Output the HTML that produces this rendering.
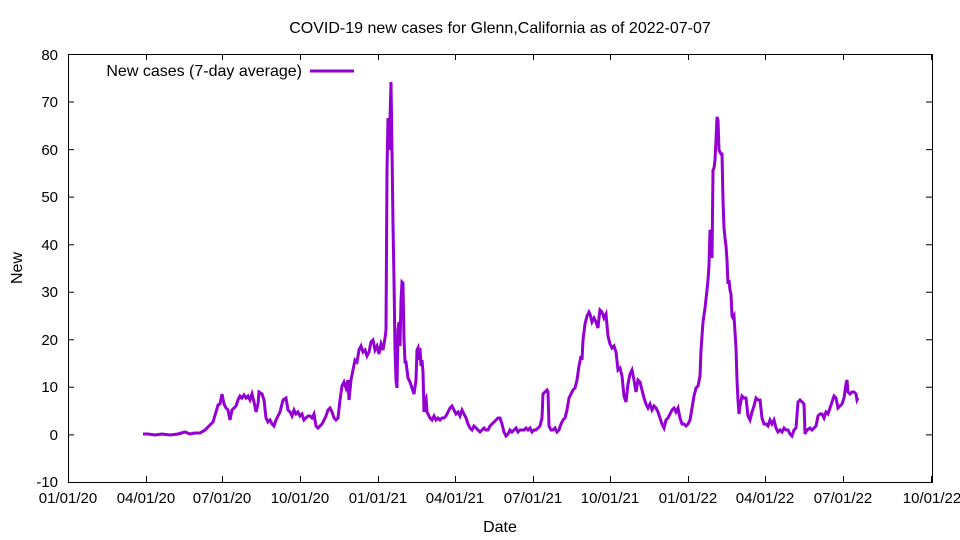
<!DOCTYPE html>
<html><head><style>body{margin:0;background:#fff}svg{display:block}text{font-family:"Liberation Sans",sans-serif;font-size:15px;fill:#000}.b{font-size:16px}</style></head><body>
<svg width="960" height="540" viewBox="0 0 960 540">
<rect x="68.5" y="54.5" width="864" height="428" fill="none" stroke="#000" stroke-width="1"/>
<g stroke="#000" stroke-width="1">
<path d="M68 482.5h6M932 482.5h-6M68 434.9h6M932 434.9h-6M68 387.3h6M932 387.3h-6M68 339.8h6M932 339.8h-6M68 292.2h6M932 292.2h-6M68 244.7h6M932 244.7h-6M68 197.1h6M932 197.1h-6M68 149.6h6M932 149.6h-6M68 102h6M932 102h-6M68 54.5h6M932 54.5h-6"/>
<path d="M68.5 482v-6M68.5 54v6M146.5 482v-6M146.5 54v6M222.5 482v-6M222.5 54v6M300.5 482v-6M300.5 54v6M378.5 482v-6M378.5 54v6M455.5 482v-6M455.5 54v6M533.5 482v-6M533.5 54v6M610.5 482v-6M610.5 54v6M688.5 482v-6M688.5 54v6M765.5 482v-6M765.5 54v6M843.5 482v-6M843.5 54v6M931.5 482v-6M931.5 54v6"/>
</g>
<g text-anchor="end">
<text x="58" y="487">-10</text><text x="58" y="440">0</text><text x="58" y="392">10</text><text x="58" y="345">20</text><text x="58" y="297">30</text><text x="58" y="250">40</text><text x="58" y="202">50</text><text x="58" y="155">60</text><text x="58" y="107">70</text><text x="58" y="60">80</text>
</g>
<g text-anchor="middle">
<text x="68" y="503">01/01/20</text><text x="146" y="503">04/01/20</text><text x="222" y="503">07/01/20</text><text x="300" y="503">10/01/20</text><text x="378" y="503">01/01/21</text><text x="455" y="503">04/01/21</text><text x="533" y="503">07/01/21</text><text x="610" y="503">10/01/21</text><text x="688" y="503">01/01/22</text><text x="765" y="503">04/01/22</text><text x="843" y="503">07/01/22</text><text x="932" y="503">10/01/22</text>
<text class="b" x="500" y="532">Date</text>
<text class="b" x="500" y="33">COVID-19 new cases for Glenn,California as of 2022-07-07</text>
</g>
<text class="b" x="22" y="268" text-anchor="middle" transform="rotate(-90 22 268)">New</text>
<text class="b" x="302" y="76" text-anchor="end">New cases (7-day average)</text>
<path d="M310 71H354" stroke="#9400d3" stroke-width="3"/>
<polyline fill="none" stroke="#9400d3" stroke-width="3" stroke-linejoin="miter" points="143,434 148,434 155,435 162,434 170,435 178,434 185,432 190,434 195,433 200,433 205,430 210,425 213,422 216,412 218,405 220,404 222,394 224,404 226,408 228,410 230,420 232,410 234,408 236,406 238,400 240,396 242,398 244,395 246,398 248,396 250,400 252,394 254,402 256,412 258,404 259,392 262,394 264,400 266,418 268,422 270,420 272,424 274,426 276,420 278,416 280,412 283,400 286,398 288,410 290,412 292,416 294,410 296,414 298,412 300,416 302,414 304,420 306,418 308,416 310,416 312,418 314,414 316,426 318,428 320,426 322,424 324,420 326,416 328,410 330,408 332,412 334,418 336,420 338,418 340,400 342,386 344,382 346,388 348,380 349,400 351,380 353,370 355,360 357,362 359,350 361,346 363,352 365,350 367,356 369,352 371,342 373,340 375,350 377,346 379,354 381,344 383,350 385,338 386,330 387,170 388,118 389,150 390,120 391,82 392,150 393,225 394,280 395,350 396,380 397,388 398,330 399,322 400,346 401,300 402,282 403,283 404,340 405,362 406,362 408,378 410,382 412,388 414,394 416,380 417,350 418,348 419,360 420,348 421,366 422,360 423,372 424,412 425,400 426,398 427,412 428,414 430,418 432,420 434,416 436,420 438,418 440,420 442,418 444,418 446,416 448,412 450,408 452,406 454,410 456,414 458,412 460,416 462,410 464,414 466,418 468,424 470,428 472,430 474,426 476,428 478,430 480,432 482,430 484,428 486,430 488,430 490,426 492,424 494,422 496,420 498,418 500,418 502,424 504,432 506,436 508,434 510,430 512,432 514,430 516,428 518,432 520,430 522,430 524,430 526,428 528,430 530,428 532,432 534,430 536,430 538,428 540,426 542,418 543,394 545,392 547,390 548,392 549,426 551,430 553,430 555,428 557,432 559,430 561,424 563,420 565,418 567,410 569,398 571,394 573,390 575,388 577,380 579,366 581,356 582,360 583,340 585,324 587,316 589,312 590,314 592,322 594,318 596,322 598,328 599,318 600,310 602,312 604,318 606,314 608,336 610,344 612,348 614,346 616,352 618,370 620,368 622,376 624,396 626,402 628,384 630,374 632,370 634,380 636,392 638,380 640,382 642,390 644,398 646,404 648,408 650,404 652,410 654,406 656,408 658,412 660,418 662,424 664,428 666,420 668,418 670,414 672,410 674,408 676,412 678,408 680,418 682,424 684,424 686,426 688,424 690,420 692,408 694,396 696,388 698,386 700,376 701,350 703,322 705,308 707,290 708,280 709,265 710,230 711,232 712,258 713,170 714,168 715,160 716,140 717,117 718,120 719,150 720,152 721,154 722,154 723,200 724,228 725,238 726,246 727,260 728,284 729,280 730,290 731,294 732,316 733,318 734,316 735,332 736,348 737,380 738,400 739,414 740,406 742,396 744,398 746,398 748,416 750,420 752,412 754,406 756,398 758,400 760,400 762,418 764,424 766,424 768,426 770,420 772,424 774,420 776,428 778,432 780,430 782,432 784,428 786,430 788,430 790,434 792,436 794,430 796,428 798,402 800,400 802,402 804,404 805,434 807,430 810,428 812,430 814,428 816,426 818,416 820,414 822,414 824,418 826,412 828,414 830,408 832,402 834,396 836,398 838,408 840,406 842,404 844,398 846,384 847,380 848,392 850,394 852,392 854,392 856,394 857,400 858,398"/>
</svg>
</body></html>
